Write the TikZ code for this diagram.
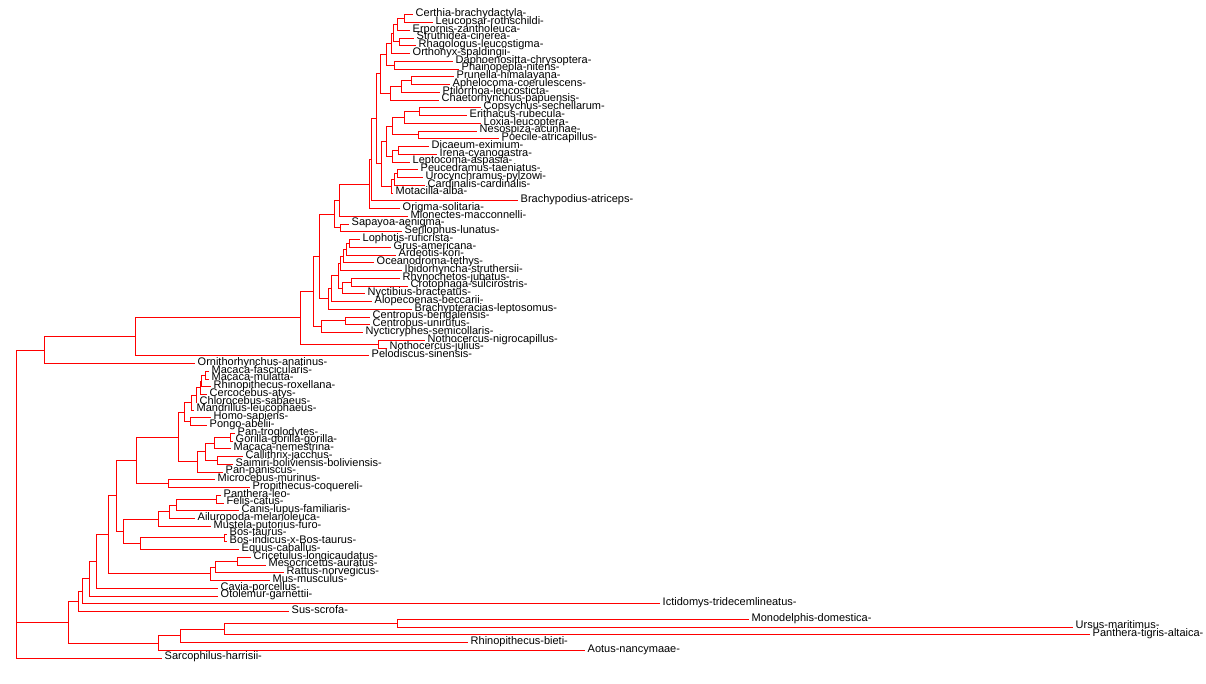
\documentclass[tikz,border=0pt]{standalone}
\usepackage{fontspec}
\setmainfont{Liberation Sans}
\usetikzlibrary{calc}

\begin{document}
\begin{tikzpicture}[x=1pt,y=-1pt,
	branch/.style={draw=red,line width=0.9pt},
	tiplabel/.style={anchor=base west,inner sep=0pt,xshift=2.5pt,yshift=-1.8pt,font=\fontsize{11}{11}\selectfont}]
	\useasboundingbox (0,0) rectangle (1206,684);
		%tips + labels
			\foreach \tx/\name [count=\i] in {413/Certhia-brachydactyla-,433/Leucopsar-rothschildi-,410/Erpornis-zantholeuca-,
				414/Struthidea-cinerea-,416/Rhagologus-leucostigma-,410/Orthonyx-spaldingii-,453/Daphoenositta-chrysoptera-,
				459/Phainopepla-nitens-,454/Prunella-himalayana-,450/Aphelocoma-coerulescens-,440/Ptilorrhoa-leucosticta-,
				439/Chaetorhynchus-papuensis-,481/Copsychus-sechellarum-,467/Erithacus-rubecula-,481/Loxia-leucoptera-,
				477/Nesospiza-acunhae-,499/Poecile-atricapillus-,429/Dicaeum-eximium-,437/Irena-cyanogastra-,
				410/Leptocoma-aspasia-,418/Peucedramus-taeniatus-,423/Urocynchramus-pylzowi-,425/Cardinalis-cardinalis-,
				393/Motacilla-alba-,518/Brachypodius-atriceps-,400/Origma-solitaria-,408/Mionectes-macconnelli-,
				349/Sapayoa-aenigma-,402/Serilophus-lunatus-,360/Lophotis-ruficrista-,391/Grus-americana-,
				396/Ardeotis-kori-,374/Oceanodroma-tethys-,402/Ibidorhyncha-struthersii-,400/Rhynochetos-jubatus-,
				408/Crotophaga-sulcirostris-,365/Nyctibius-bracteatus-,372/Alopecoenas-beccarii-,412/Brachypteracias-leptosomus-,
				370/Centropus-bengalensis-,370/Centropus-unirufus-,363/Nycticryphes-semicollaris-,425/Nothocercus-nigrocapillus-,
				387/Nothocercus-julius-,369/Pelodiscus-sinensis-,195/Ornithorhynchus-anatinus-,209/Macaca-fascicularis-,
				209/Macaca-mulatta-,211/Rhinopithecus-roxellana-,207/Cercocebus-atys-,197/Chlorocebus-sabaeus-,
				194/Mandrillus-leucophaeus-,211/Homo-sapiens-,207/Pongo-abelii-,235/Pan-troglodytes-,
				233/Gorilla-gorilla-gorilla-,231/Macaca-nemestrina-,243/Callithrix-jacchus-,233/Saimiri-boliviensis-boliviensis-,
				223/Pan-paniscus-,215/Microcebus-murinus-,250/Propithecus-coquereli-,221/Panthera-leo-,224/Felis-catus-,
				239/Canis-lupus-familiaris-,195/Ailuropoda-melanoleuca-,211/Mustela-putorius-furo-,227/Bos-taurus-,
				227/Bos-indicus-x-Bos-taurus-,239/Equus-caballus-,251/Cricetulus-longicaudatus-,266/Mesocricetus-auratus-,
				284/Rattus-norvegicus-,270/Mus-musculus-,218/Cavia-porcellus-,218/Otolemur-garnettii-,
				660/Ictidomys-tridecemlineatus-,289/Sus-scrofa-,749/Monodelphis-domestica-,1073/Ursus-maritimus-,
				1090/Panthera-tigris-altaica-,468/Rhinopithecus-bieti-,585/Aotus-nancymaae-,162/Sarcophilus-harrisii-}{
				\coordinate (t\i) at (\tx,{14.8+7.75*(\i-1)});
				\node[tiplabel] (lab\i) at (t\i) {\name};
			}
		%clades, children before parents
			\foreach \nd/\xx/\ca/\cb in {a1/404/t1/t2,a2/397/a1/t3,a3/399/t4/t5,a4/393/a2/a3,a5/391/a4/t6,
				a7/394/t7/t8,a6/386.7/a5/a7,b1/411.7/t9/t10,b2/401/b1/t11,b3/390/b2/t12,a8/380/a6/b3,
				c1a/419.3/t13/t14,c1/404/c1a/t15,c2/418.3/t16/t17,c3/392.3/c1/c2,d1/398.3/t18/t19,d2/392.7/d1/t20,
				c4/386.7/c3/d2,e1/397/t21/t22,e2/394.5/e1/t23,e3/391.5/e2/t24,c5/381/c4/e3,f1/376/a8/c5,
				g1/371.5/f1/t25,h1/369/g1/t26,i1/339.3/h1/t27,ss/340/t28/t29,passer/334.3/i1/ss,
				w1/349.3/t30/t31,w2/346/w1/t32,w3/343.3/w2/t33,w4/340/w3/t34,w5/351.7/t35/t36,w6/342/w5/t37,
				w7/338.3/w4/w6,w8/331.7/w7/t38,w9/328.3/w8/t39,neo1/319.3/passer/w9,
				cuck/345/t40/t41,cuck2/321.7/cuck/t42,neo/313.3/neo1/cuck2,tina/378.3/t43/t44,aves/300/neo/tina,
				saur/135.7/aves/t45,mono/44/saur/t46,
				p1/205/t47/t48,p2/201.7/p1/t49,p3/200/p2/t50,p4/196/p3/t51,p5/191.7/p4/t52,p6/190/t53/t54,
				p7/184.3/p5/p6,q1/230/t55/t56,q2/214/q1/t57,q3/217/t58/t59,q4/205/q2/q3,q5/197/q4/t60,
				p8/178.3/p7/q5,s1/168.3/t61/t62,prim/136/p8/s1,
				k1/216.7/t63/t64,k2/176/k1/t65,k3/169/k2/t66,k4/158.3/k3/t67,u1/224/t68/t69,u2/140.7/u1/t70,
				laur/123.3/k4/u2,m1/116/prim/laur,r1/237.3/t71/t72,r2/215/r1/t73,r3/210/r2/t74,
				m2/108.3/m1/r3,m3/96/m2/t75,m4/89/m3/t76,m5/82.6/m4/t77,m6/78/m5/t78,
				n1/397/t79/t80,n2/224/n1/t81,n3/180/n2/t82,n4/158.5/n3/t83,m7/68/m6/n4}{
				\path ($(\ca)!.5!(\cb)$) coordinate (mid);
				\coordinate (\nd) at (\xx,0 |- mid);
				\draw[branch] (\nd) |- (\ca) (\nd) |- (\cb);
			}
		%root
			\coordinate (root) at (16.5,0 |- mono);
			\draw[branch] (root) |- (mono) (root) |- (m7) (root) |- (t84);
\end{tikzpicture}
\end{document}
